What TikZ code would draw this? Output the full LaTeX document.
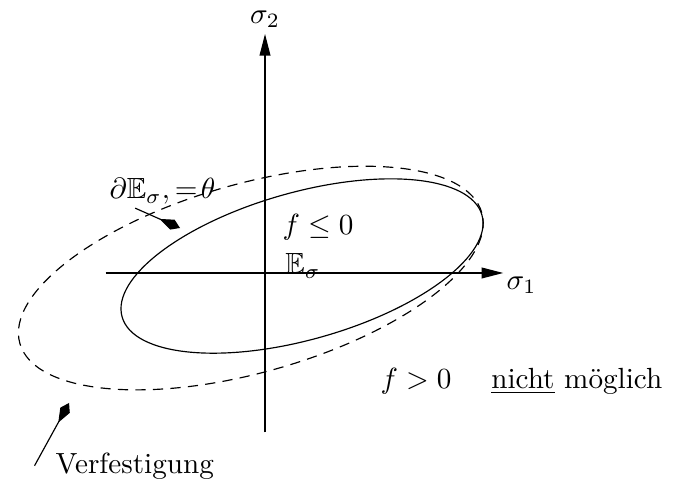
\documentclass[tikz,border=0pt]{standalone}
\usepackage{amsmath,amssymb}
\usepackage{tikz}
\usetikzlibrary{arrows.meta}

\begin{document}
\begin{tikzpicture}[x=1cm, y=1cm, >={Triangle[length=2.6mm, width=1.3mm]},
	pointer/.style={-{Kite[length=2.7mm, width=1.3mm, inset=1.7mm]}}]
	\useasboundingbox (-3.193,-2.566) rectangle (5.012,3.289);
	% axes
	\draw[->] (-1.92,0) -- (2.87,0) node[below right, inner sep=1pt] (s1) {$\sigma_1$};
	\draw[->] (0,-1.92) -- (0,2.88) node[above, inner sep=2pt] (s2) {$\sigma_2$};
	% yield surface and hardened surface
	\draw[rotate around={15.8:(0.446,0.084)}] (0.446,0.084) ellipse (2.253 and 0.886);
	\draw[dash pattern=on 3.5pt off 2.5pt, rotate around={15.8:(-0.171,-0.061)}] (-0.171,-0.061) ellipse (2.892 and 1.136);
	% labels
	\node (fin) at (0.639,0.554) {$f\le 0$};
	\node[anchor=base] (Es) at (0.458,-0.012) {$\mathbb{E}_\sigma$};
	\node[anchor=base, inner sep=1pt] (flab) at (-1.235,0.892) {$\partial\mathbb{E}_\sigma,=\!\theta$};
	\coordinate (surf) at (-1.024,0.542);
	\draw[pointer] ([xshift=-3.3mm]flab.south) -- (surf);
	\node[anchor=base west] (fout) at (1.268,-1.386) {$f>0$\hspace{4.8mm}\underline{nicht} möglich};
	\node[anchor=base west] (hard) at (-2.647,-2.410) {Verfestigung};
	\coordinate (hardtip) at (-2.361,-1.566);
	\draw[pointer] ([xshift=-1.3mm]hard.west) -- (hardtip);
\end{tikzpicture}
\end{document}
